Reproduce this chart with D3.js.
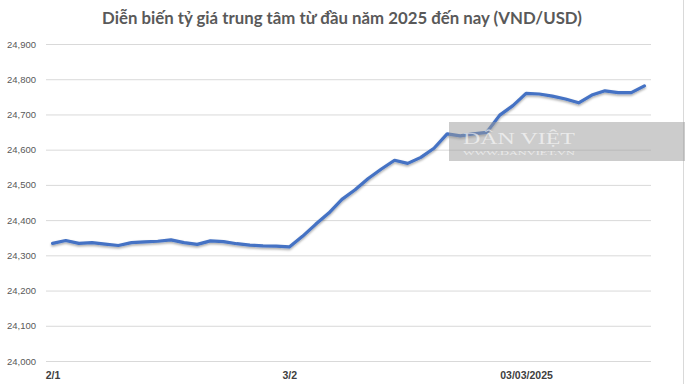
<!DOCTYPE html>
<html>
<head>
<meta charset="utf-8">
<script src="https://cdn.jsdelivr.net/npm/d3@7"></script>
<style>
    body { margin: 0; background: #fff; }
    svg { display: block; font-family: Lato, "Noto Sans", sans-serif; }
</style>
</head>
<body>
<div id="chart-rate"></div>
<script>
// data: central rate VND/USD, one value per published day
var rateValues = [
    24334, 24342, 24334, 24336, 24332, 24328, 24336, 24338, 24340, 24344,
    24336, 24331, 24341, 24339, 24333, 24329, 24327, 24326, 24324, 24354,
    24388, 24420, 24459, 24486, 24518, 24545, 24570, 24561, 24578, 24604,
    24645, 24639, 24645, 24649, 24698, 24725, 24760, 24758, 24752, 24744,
    24733, 24755, 24767, 24762, 24762, 24781
];
var xTickIndex = [0, 18, 36];
var xTickLabels = ["2/1", "3/2", "03/03/2025"];
var yTicks = [24000, 24100, 24200, 24300, 24400, 24500, 24600, 24700, 24800, 24900];

var titleText = "Diễn biến tỷ giá trung tâm từ đầu năm 2025 đến nay (VND/USD)";

// set the dimensions and margins of the graph
var margin = { top: 44, right: 34, bottom: 23, left: 46 },
    fullWidth = 685,
    fullHeight = 384,
    width = fullWidth - margin.left - margin.right,
    height = fullHeight - margin.top - margin.bottom;

var svgRoot = d3.select("#chart-rate")
    .append("svg")
    .attr("width", fullWidth)
    .attr("height", fullHeight);

// soft shadow under the line, like excel
var defs = svgRoot.append("defs");
var shadow = defs.append("filter")
    .attr("id", "line-shadow")
    .attr("x", "-5%").attr("y", "-20%")
    .attr("width", "110%").attr("height", "140%");
shadow.append("feDropShadow")
    .attr("dx", 0)
    .attr("dy", 1.5)
    .attr("stdDeviation", 1)
    .attr("flood-color", "#000")
    .attr("flood-opacity", 0.35);

var svg = svgRoot.append("g")
    .attr("transform", "translate(" + margin.left + "," + margin.top + ")");

// scales
var x = d3.scalePoint()
    .domain(d3.range(rateValues.length))
    .range([0, width])
    .padding(0.5);

var y = d3.scaleLinear()
    .domain([d3.min(yTicks), d3.max(yTicks)])
    .range([height, 0]);

// y axis with gridlines
var yAxis = svg.append("g")
    .call(d3.axisLeft(y)
        .tickValues(yTicks)
        .tickFormat(d3.format(","))
        .tickSizeInner(-width)
        .tickSizeOuter(0)
        .tickPadding(10));
yAxis.select(".domain").remove();
yAxis.selectAll(".tick line")
    .attr("stroke", "#d9d9d9")
    .attr("stroke-width", 1);
yAxis.selectAll(".tick text")
    .attr("fill", "#595959")
    .style("font-size", "9.5px");

// x axis, labels only
var xAxis = svg.append("g")
    .attr("transform", "translate(0," + height + ")")
    .call(d3.axisBottom(x)
        .tickValues(xTickIndex)
        .tickFormat(function (d, i) { return xTickLabels[i]; })
        .tickSize(0)
        .tickPadding(11));
xAxis.select(".domain").remove();
xAxis.selectAll(".tick text")
    .attr("fill", "#404040")
    .style("font-size", "10.5px")
    .style("font-weight", "bold");

// the line
var line = d3.line()
    .x(function (d, i) { return x(i); })
    .y(function (d) { return y(d); });

svg.append("path")
    .datum(rateValues)
    .attr("fill", "none")
    .attr("stroke", "#4472c4")
    .attr("stroke-width", 3.2)
    .attr("stroke-linejoin", "round")
    .attr("stroke-linecap", "round")
    .attr("filter", "url(#line-shadow)")
    .attr("d", line);

// title
svgRoot.append("text")
    .attr("x", 342)
    .attr("y", 24)
    .style("text-anchor", "middle")
    .style("font-size", "16.8px")
    .style("font-weight", "bold")
    .attr("fill", "#595959")
    .text(titleText);

// right border of the picture
svgRoot.append("line")
    .attr("x1", 683.5).attr("x2", 683.5)
    .attr("y1", 0).attr("y2", fullHeight)
    .attr("stroke", "#d9d9d9");

// watermark box
var mark = svgRoot.append("g");
mark.append("rect")
    .attr("x", 449)
    .attr("y", 122)
    .attr("width", 236)
    .attr("height", 39)
    .attr("fill", "#9a9a9a")
    .attr("fill-opacity", 0.5);
mark.append("text")
    .attr("x", 463)
    .attr("y", 144)
    .attr("textLength", 112)
    .attr("lengthAdjust", "spacingAndGlyphs")
    .style("font-family", "'Liberation Serif', 'DejaVu Serif', serif")
    .style("font-size", "17px")
    .attr("fill", "#fff")
    .attr("fill-opacity", 0.6)
    .text("DÂN VIỆT");
mark.append("text")
    .attr("x", 463)
    .attr("y", 154.5)
    .attr("textLength", 112)
    .attr("lengthAdjust", "spacingAndGlyphs")
    .style("font-family", "'Liberation Serif', 'DejaVu Serif', serif")
    .style("font-size", "6px")
    .attr("fill", "#fff")
    .attr("fill-opacity", 0.6)
    .text("WWW.DANVIET.VN");
</script>
</body>
</html>
